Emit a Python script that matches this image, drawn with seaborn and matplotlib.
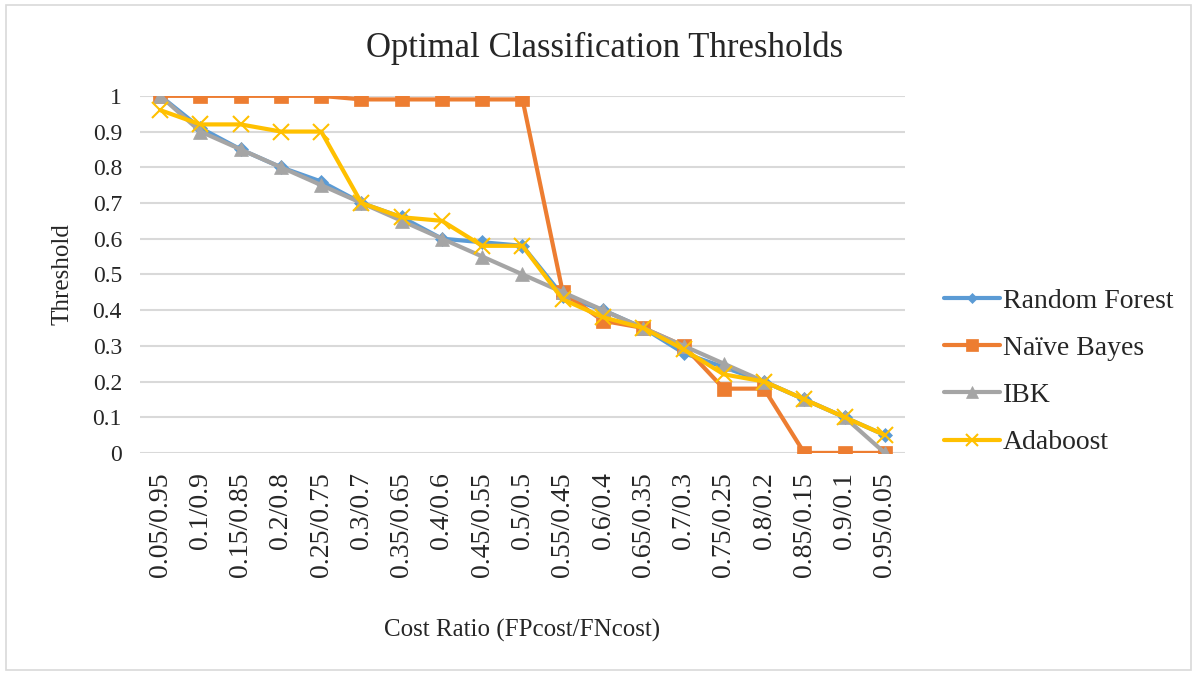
import matplotlib
matplotlib.use("Agg")
import matplotlib.pyplot as plt
from matplotlib.patches import Rectangle
import seaborn as sns
import pandas as pd

# Cost ratios (FP cost / FN cost) along the x axis
cost_ratios = ["0.05/0.95", "0.1/0.9", "0.15/0.85", "0.2/0.8", "0.25/0.75",
               "0.3/0.7", "0.35/0.65", "0.4/0.6", "0.45/0.55", "0.5/0.5",
               "0.55/0.45", "0.6/0.4", "0.65/0.35", "0.7/0.3", "0.75/0.25",
               "0.8/0.2", "0.85/0.15", "0.9/0.1", "0.95/0.05"]

random_forest = [1.00, 0.91, 0.85, 0.80, 0.76, 0.70, 0.66, 0.60, 0.59, 0.58,
                 0.44, 0.40, 0.35, 0.28, 0.24, 0.20, 0.15, 0.10, 0.05]
naive_bayes = [1.00, 1.00, 1.00, 1.00, 1.00, 0.99, 0.99, 0.99, 0.99, 0.99,
               0.45, 0.37, 0.35, 0.30, 0.18, 0.18, 0.00, 0.00, 0.00]
ibk = [1.00, 0.90, 0.85, 0.80, 0.75, 0.70, 0.65, 0.60, 0.55, 0.50,
       0.45, 0.40, 0.35, 0.30, 0.25, 0.20, 0.15, 0.10, 0.00]
adaboost = [0.96, 0.92, 0.92, 0.90, 0.90, 0.70, 0.66, 0.65, 0.58, 0.58,
            0.43, 0.38, 0.35, 0.29, 0.22, 0.20, 0.15, 0.10, 0.05]

series_names = ["Random Forest", "Naïve Bayes", "IBK", "Adaboost"]
series_values = [random_forest, naive_bayes, ibk, adaboost]
colors = ["#5B9BD5", "#ED7D31", "#A5A5A5", "#FFC000"]
markers = ["D", "s", "^", "x"]
marker_sizes = [7, 10, 10, 11]

frames = []
for name, vals in zip(series_names, series_values):
    frames.append(pd.DataFrame({"ratio": cost_ratios, "threshold": vals, "model": name}))
df = pd.concat(frames, ignore_index=True)

sns.set_theme(style="white")
plt.rcParams["font.family"] = ["Liberation Serif", "DejaVu Serif"]

fig = plt.figure(figsize=(11.97, 6.75), dpi=100)
ax = fig.add_axes([0.117, 0.329, 0.639, 0.529])

for name, col, mk, ms in zip(series_names, colors, markers, marker_sizes):
    sub = df[df["model"] == name]
    sns.lineplot(data=sub, x="ratio", y="threshold", ax=ax, color=col,
                 linewidth=3, marker=mk, markersize=ms,
                 markeredgecolor=col, markeredgewidth=1.5 if mk == "x" else 0.5,
                 sort=False, label=name, legend=False)

ax.set_xlim(-0.5, len(cost_ratios) - 0.5)
ax.set_ylim(0, 1.0)
ax.set_yticks([i / 10 for i in range(11)])
ax.set_yticklabels(["0", "0.1", "0.2", "0.3", "0.4", "0.5", "0.6", "0.7", "0.8", "0.9", "1"],
                   fontsize=17)
ax.set_xticks(range(len(cost_ratios)))
ax.set_xticklabels(cost_ratios, rotation=90, fontsize=20)
ax.tick_params(axis="both", length=0)
ax.tick_params(axis="y", pad=13)
ax.tick_params(axis="x", pad=14)
ax.yaxis.grid(True, color="#D9D9D9", linewidth=1.5)
ax.xaxis.grid(False)
ax.set_axisbelow(True)
for sp in ax.spines.values():
    sp.set_visible(False)

ax.set_xlabel("Cost Ratio (FPcost/FNcost)", fontsize=18, labelpad=30)
ax.set_ylabel("Threshold", fontsize=18, labelpad=14)

fig.text(0.505, 0.928, "Optimal Classification Thresholds", ha="center", va="center",
         fontsize=25)

h, l = ax.get_legend_handles_labels()
fig.legend(h, l, loc="center left", bbox_to_anchor=(0.768, 0.449), frameon=False,
           fontsize=20, handlelength=2.0, handletextpad=0.1, labelspacing=0.78,
           markerscale=0.8)

fig.patches.append(Rectangle((0.005, 0.008), 0.99, 0.985, transform=fig.transFigure,
                             fill=False, edgecolor="#D9D9D9", linewidth=1.2))

fig.savefig("out.png", dpi=100, facecolor="white")
